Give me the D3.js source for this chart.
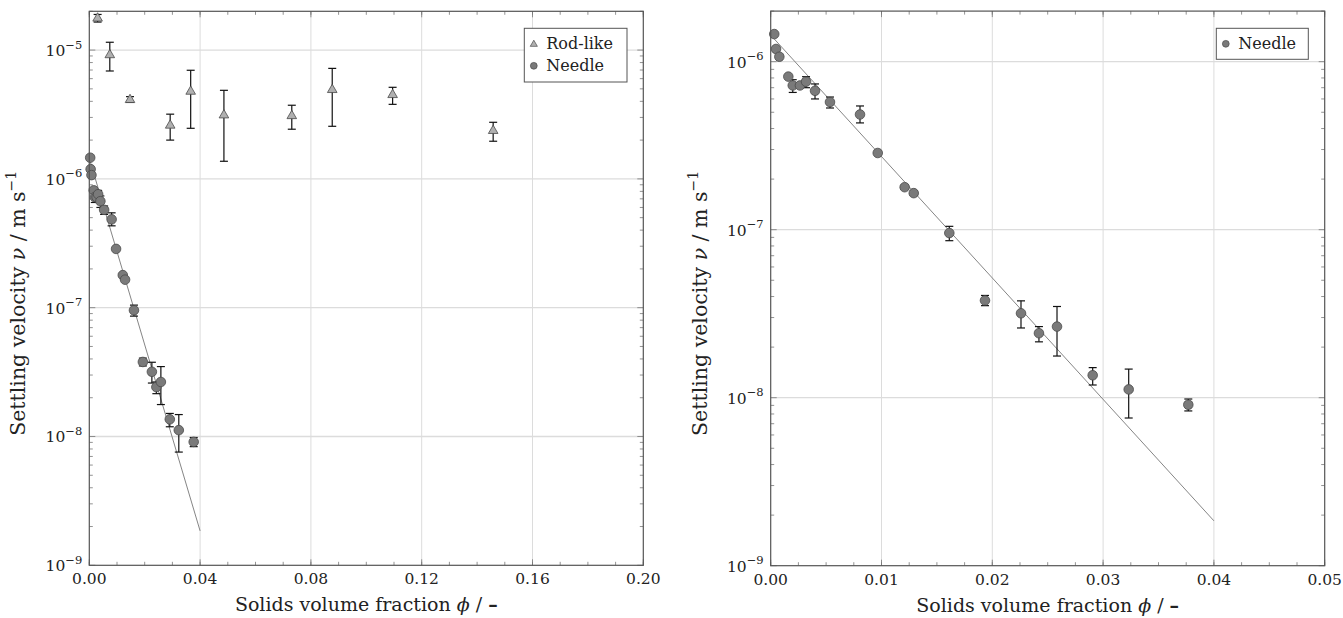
<!DOCTYPE html>
<html>
<head>
<meta charset="utf-8">
<script src="https://cdn.jsdelivr.net/npm/d3@7"></script>
<style>
  html, body { margin: 0; padding: 0; background: #fff; }
  svg { display: block; }
  text { font-family: "DejaVu Serif", serif; fill: #222; }
</style>
</head>
<body>
<svg id="chart" width="1343" height="618"></svg>
<script>
// ---------- data ----------
const rodPhi = [0.0030, 0.0074, 0.0147, 0.0292, 0.0366, 0.0486, 0.0731, 0.0877, 0.1095, 0.1458];
const rodV   = [1.79e-5, 9.3e-6, 4.17e-6, 2.64e-6, 4.84e-6, 3.17e-6, 3.13e-6, 4.99e-6, 4.56e-6, 2.40e-6];
const rodHi  = [1.89e-5, 1.15e-5, 4.35e-6, 3.18e-6, 6.97e-6, 4.87e-6, 3.73e-6, 7.21e-6, 5.14e-6, 2.75e-6];
const rodLo  = [1.65e-5, 6.88e-6, 3.93e-6, 2.00e-6, 2.47e-6, 1.37e-6, 2.43e-6, 2.56e-6, 3.79e-6, 1.96e-6];

const needlePhi = [0.00032, 0.00048, 0.00078, 0.00159, 0.00199, 0.00264, 0.00319, 0.0040, 0.00535, 0.00806, 0.00966,
                   0.01209, 0.01291, 0.01612, 0.01934, 0.02259, 0.02421, 0.02584, 0.02906, 0.03231, 0.03769];
const needleV   = [1.46e-6, 1.19e-6, 1.07e-6, 8.15e-7, 7.22e-7, 7.22e-7, 7.6e-7, 6.71e-7, 5.75e-7, 4.85e-7, 2.86e-7,
                   1.79e-7, 1.65e-7, 9.55e-8, 3.79e-8, 3.18e-8, 2.42e-8, 2.65e-8, 1.36e-8, 1.12e-8, 9.08e-9];
const needleHi  = [1.46e-6, 1.19e-6, 1.07e-6, 8.15e-7, 7.81e-7, 7.22e-7, 8.14e-7, 7.37e-7, 6.16e-7, 5.45e-7, 2.86e-7,
                   1.84e-7, 1.70e-7, 1.047e-7, 4.06e-8, 3.77e-8, 2.65e-8, 3.49e-8, 1.51e-8, 1.48e-8, 9.82e-9];
const needleLo  = [1.46e-6, 1.19e-6, 1.07e-6, 8.15e-7, 6.56e-7, 7.22e-7, 7.0e-7, 6.0e-7, 5.3e-7, 4.32e-7, 2.86e-7,
                   1.74e-7, 1.60e-7, 8.6e-8, 3.53e-8, 2.6e-8, 2.15e-8, 1.77e-8, 1.19e-8, 7.57e-9, 8.34e-9];

const fitPhi = [0, 0.04];
const fitV   = [1.44e-6, 1.85e-9];

const leftXTicks  = [0, 0.04, 0.08, 0.12, 0.16, 0.20];
const leftXLabels = ["0.00", "0.04", "0.08", "0.12", "0.16", "0.20"];
const rightXTicks  = [0, 0.01, 0.02, 0.03, 0.04, 0.05];
const rightXLabels = ["0.00", "0.01", "0.02", "0.03", "0.04", "0.05"];
const leftYExps  = [-9, -8, -7, -6, -5];
const rightYExps = [-9, -8, -7, -6];

const seriesNames = ["Rod-like", "Needle"];

// ---------- drawing ----------
const svg = d3.select("#chart");
const C = { frame: "#555", grid: "#dcdcdc", circle: "#7a7a7a", tri: "#b0b0b0", mstroke: "#4a4a4a", err: "#111", fit: "#777" };

function yLabelTspans(sel, exp) {
  sel.append("tspan").text("10");
  sel.append("tspan").attr("dy", -7.5).attr("font-size", 11.5).text("\u2212" + Math.abs(exp));
}

function drawPanel(o) {
  const g = svg.append("g");
  const x = d3.scaleLinear().domain(o.xDomain).range([o.left, o.right]);
  const y = d3.scaleLog().domain(o.yDomain).range([o.bottom, o.top]);

  // grid
  g.selectAll(".gx").data(o.xTicks.slice(1, -1)).join("line")
    .attr("x1", d => x(d)).attr("x2", d => x(d)).attr("y1", o.top).attr("y2", o.bottom)
    .attr("stroke", C.grid).attr("stroke-width", 1);
  const ydec = o.yExps.map(e => Math.pow(10, e));
  g.selectAll(".gy").data(ydec.slice(1)).join("line")
    .attr("x1", o.left).attr("x2", o.right).attr("y1", d => y(d)).attr("y2", d => y(d))
    .attr("stroke", C.grid).attr("stroke-width", 1.3);

  // minor ticks x (inside, bottom & top)
  const xMinor = d3.range(o.xDomain[0], o.xDomain[1] + 1e-9, o.xMinorStep);
  [o.bottom, o.top].forEach((yy, i) => {
    const dir = i === 0 ? -1 : 1;
    g.selectAll(null).data(xMinor).join("line")
      .attr("x1", d => x(d)).attr("x2", d => x(d)).attr("y1", yy).attr("y2", yy + dir * 3.5)
      .attr("stroke", "#777").attr("stroke-width", 0.8);
    g.selectAll(null).data(o.xTicks).join("line")
      .attr("x1", d => x(d)).attr("x2", d => x(d)).attr("y1", yy).attr("y2", yy + dir * 6)
      .attr("stroke", "#777").attr("stroke-width", 0.8);
  });
  // minor ticks y (inside, left & right)
  const yMinor = [];
  for (let e = o.yExps[0]; e <= o.yExps[o.yExps.length - 1]; e++) {
    for (let m = 2; m <= 9; m++) {
      const v = m * Math.pow(10, e);
      if (v <= o.yDomain[1]) yMinor.push(v);
    }
  }
  [o.left, o.right].forEach((xx, i) => {
    const dir = i === 0 ? 1 : -1;
    g.selectAll(null).data(yMinor).join("line")
      .attr("x1", xx).attr("x2", xx + dir * 3.5).attr("y1", d => y(d)).attr("y2", d => y(d))
      .attr("stroke", "#777").attr("stroke-width", 0.8);
    g.selectAll(null).data(ydec).join("line")
      .attr("x1", xx).attr("x2", xx + dir * 6).attr("y1", d => y(d)).attr("y2", d => y(d))
      .attr("stroke", "#777").attr("stroke-width", 0.8);
  });

  // fit line
  g.append("path")
    .datum(fitPhi.map((p, i) => [p, fitV[i]]))
    .attr("d", d3.line().x(d => x(d[0])).y(d => y(d[1])))
    .attr("fill", "none").attr("stroke", C.fit).attr("stroke-width", 0.9);

  // series
  function errBars(phi, hi, lo) {
    const idx = phi.map((_, i) => i).filter(i => hi[i] !== lo[i]);
    const eg = g.append("g").attr("stroke", C.err).attr("stroke-width", 1.2);
    eg.selectAll(null).data(idx).join("line")
      .attr("x1", i => x(phi[i])).attr("x2", i => x(phi[i])).attr("y1", i => y(hi[i])).attr("y2", i => y(lo[i]));
    [hi, lo].forEach(arr => {
      eg.selectAll(null).data(idx).join("line")
        .attr("x1", i => x(phi[i]) - 4).attr("x2", i => x(phi[i]) + 4)
        .attr("y1", i => y(arr[i])).attr("y2", i => y(arr[i]));
    });
  }
  const tri = d3.symbol().type(d3.symbolTriangle).size(40);
  if (o.showRod) {
    errBars(rodPhi, rodHi, rodLo);
    g.selectAll(null).data(rodPhi.map((p, i) => [p, rodV[i]])).join("path")
      .attr("d", tri).attr("transform", d => `translate(${x(d[0])},${y(d[1]) + 0.8})`)
      .attr("fill", C.tri).attr("stroke", C.mstroke).attr("stroke-width", 0.8);
  }
  errBars(needlePhi, needleHi, needleLo);
  g.selectAll(null).data(needlePhi.map((p, i) => [p, needleV[i]])).join("circle")
    .attr("cx", d => x(d[0])).attr("cy", d => y(d[1])).attr("r", 4.8)
    .attr("fill", C.circle).attr("stroke", C.mstroke).attr("stroke-width", 0.8);

  // frame
  g.append("rect").attr("x", o.left).attr("y", o.top).attr("width", o.right - o.left).attr("height", o.bottom - o.top)
    .attr("fill", "none").attr("stroke", C.frame).attr("stroke-width", 1.2);

  // tick labels
  g.selectAll(null).data(o.xTicks).join("text")
    .attr("x", d => x(d)).attr("y", o.bottom + 19).attr("text-anchor", "middle")
    .attr("font-size", 15.5).text((d, i) => o.xLabels[i]);
  g.selectAll(null).data(o.yExps).join("text")
    .attr("x", o.left - 7).attr("y", d => y(Math.pow(10, d)) + 6).attr("text-anchor", "end")
    .attr("font-size", 15.5).each(function (d) { yLabelTspans(d3.select(this), d); });

  // axis titles
  const xt = g.append("text").attr("x", (o.left + o.right) / 2).attr("y", o.bottom + 46)
    .attr("text-anchor", "middle").attr("font-size", 19);
  xt.append("tspan").text("Solids volume fraction ");
  xt.append("tspan").attr("font-style", "italic").text("\u03D5");
  xt.append("tspan").text(" / ");
  xt.append("tspan").attr("font-weight", "bold").text("\u2013");

  const yt = g.append("text").attr("transform", `translate(${o.left - 64},${(o.top + o.bottom) / 2 + 15}) rotate(-90)`)
    .attr("text-anchor", "middle").attr("font-size", 20.5);
  yt.append("tspan").text("Settling velocity ");
  yt.append("tspan").attr("font-style", "italic").text("\u03BD");
  yt.append("tspan").text(" / m s");
  yt.append("tspan").attr("dy", -9).attr("font-size", 14).text("\u22121");

  // legend
  const L = o.legend;
  const lg = g.append("g");
  lg.append("rect").attr("x", L.x).attr("y", L.y).attr("width", L.w).attr("height", L.h)
    .attr("fill", "#fff").attr("stroke", "#555").attr("stroke-width", 1);
  L.items.forEach((name, i) => {
    const cy = L.y + 15.5 + i * 22;
    if (name === seriesNames[0]) {
      lg.append("path").attr("d", d3.symbol().type(d3.symbolTriangle).size(22)())
        .attr("transform", `translate(${L.x + 9.5},${cy + 0.5})`)
        .attr("fill", C.tri).attr("stroke", C.mstroke).attr("stroke-width", 0.7);
    } else {
      lg.append("circle").attr("cx", L.x + 9.5).attr("cy", cy).attr("r", 3.4)
        .attr("fill", C.circle).attr("stroke", C.mstroke).attr("stroke-width", 0.7);
    }
    lg.append("text").attr("x", L.x + 22).attr("y", cy + 5.5).attr("font-size", 16).text(name);
  });
}

drawPanel({
  left: 89.3, right: 643.3, top: 11.3, bottom: 565.3,
  xDomain: [0, 0.20], yDomain: [1e-9, 2e-5], xTicks: leftXTicks, xLabels: leftXLabels, xMinorStep: 0.01,
  yExps: leftYExps, showRod: true,
  legend: { x: 524.3, y: 28.3, w: 102.7, h: 53.7, items: seriesNames }
});
drawPanel({
  left: 770.7, right: 1324.7, top: 11.1, bottom: 565.7,
  xDomain: [0, 0.05], yDomain: [1e-9, 2e-6], xTicks: rightXTicks, xLabels: rightXLabels, xMinorStep: 0.0025,
  yExps: rightYExps, showRod: false,
  legend: { x: 1216.3, y: 28.3, w: 92, h: 31, items: [seriesNames[1]] }
});
</script>
</body>
</html>
